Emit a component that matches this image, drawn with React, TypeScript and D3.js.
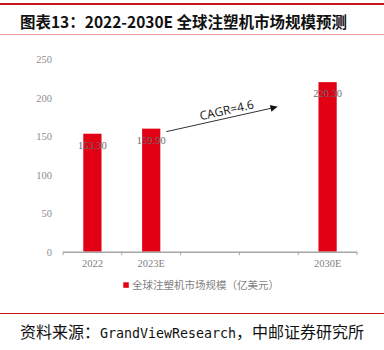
import React from 'react';
import * as d3 from 'd3';

const categories = ['2022', '2023E', ' ', '  ', '2030E'];
const values: (number | null)[] = [153.3, 159.9, null, null, 220.3];
const valueLabels = ['153.30', '159.90', '', '', '220.30'];
const yTicks = [0, 50, 100, 150, 200, 250];
const titleText = '图表13：2022-2030E 全球注塑机市场规模预测';
const legendText = '全球注塑机市场规模（亿美元）';
const cagrText = 'CAGR=4.6';
const sourceA = '资料来源：';
const sourceB = 'GrandViewResearch';
const sourceC = '，中邮证券研究所';

const W = 384;
const H = 350;
const RED = '#E10014';
const CJK = '"Noto Sans CJK SC", "Noto Sans", sans-serif';
const SERIF = '"Liberation Serif", "DejaVu Serif", serif';

export default function App() {
  const x = d3.scaleBand<string>().domain(categories).range([63, 357]).paddingInner(0.69).paddingOuter(0.345);
  const y = d3.scaleLinear().domain([0, 250]).range([251.7, 59.3]);
  const bw = x.bandwidth();

  const x0 = (x('2023E') as number) + bw + 6;
  const y0 = y(159.9) + 3;
  const x1 = (x('  ') as number) + bw / 2 + 8;
  const y1 = y(188);
  const ang = (Math.atan2(y1 - y0, x1 - x0) * 180) / Math.PI;
  const mx = (x0 + x1) / 2 + 6;
  const my = (y0 + y1) / 2;

  return (
    <svg width={W} height={H} style={{ position: 'absolute', left: 0, top: 0, background: '#fff' }}>
      <defs>
        <marker id="ah" viewBox="0 0 10 10" refX="9" refY="5" markerWidth="9" markerHeight="7" orient="auto" markerUnits="userSpaceOnUse">
          <path d="M0,0 L10,5 L0,10 z" fill="#111" />
        </marker>
      </defs>
      <line x1={0} x2={W} y1={4} y2={4} stroke="#C8161D" strokeWidth={2} />
      <text x={20} y={28} fontFamily={CJK} fontWeight="bold" fontSize={15.5} fill="#111" textLength={327} lengthAdjust="spacingAndGlyphs">{titleText}</text>
      <line x1={0} x2={W} y1={34.5} y2={34.5} stroke="#EBA3A3" strokeWidth={1} />

      {yTicks.map((t) => (
        <text key={t} x={52} y={y(t) + 3.8} textAnchor="end" fontFamily={SERIF} fontSize={10.5} fill="#8c8c8c">{t}</text>
      ))}

      {categories.map((c, i) =>
        values[i] == null ? null : (
          <rect key={c} x={x(c)} y={y(values[i] as number)} width={bw} height={y(0) - y(values[i] as number)} fill={RED} />
        )
      )}

      <line x1={63} x2={357} y1={y(0) + 0.5} y2={y(0) + 0.5} stroke="#A6A6A6" strokeWidth={1.5} />
      {[...categories.map((c) => (x(c) as number) - x.step() * x.paddingOuter()), 357].map((tx, i) => (
        <line key={i} x1={tx} x2={tx} y1={y(0)} y2={y(0) + 3.5} stroke="#A6A6A6" strokeWidth={1} />
      ))}
      {categories.map((c) => (
        <text key={c} x={(x(c) as number) + bw / 2} y={267} textAnchor="middle" fontFamily={SERIF} fontSize={10.5} fill="#7f7f7f">{c.trim()}</text>
      ))}

      {categories.map((c, i) =>
        values[i] == null ? null : (
          <text key={c} x={(x(c) as number) + bw / 2} y={y(values[i] as number) + 15} textAnchor="middle" fontFamily={SERIF} fontSize={10.5} fill="#6b6b6b">{valueLabels[i]}</text>
        )
      )}

      <line x1={x0} y1={y0} x2={x1} y2={y1} stroke="#333" strokeWidth={1} markerEnd="url(#ah)" />
      <text transform={`translate(${mx},${my - 5}) rotate(${ang})`} textAnchor="middle" fontFamily='"Open Sans", "Noto Sans", sans-serif' fontSize={12} fill="#111">{cagrText}</text>

      <rect x={123.3} y={282.3} width={5.5} height={5.5} fill={RED} />
      <text x={132} y={289} fontFamily={CJK} fontSize={10.5} fill="#7f7f7f">{legendText}</text>

      <line x1={0} x2={W} y1={313.5} y2={313.5} stroke="#C8161D" strokeWidth={1} />
      <text x={20} y={338} fontFamily={CJK} fontSize={16} fill="#111">
        <tspan>{sourceA}</tspan>
        <tspan fontFamily='"DejaVu Sans Mono", monospace' fontSize={13.3}>{sourceB}</tspan>
        <tspan>{sourceC}</tspan>
      </text>
    </svg>
  );
}
